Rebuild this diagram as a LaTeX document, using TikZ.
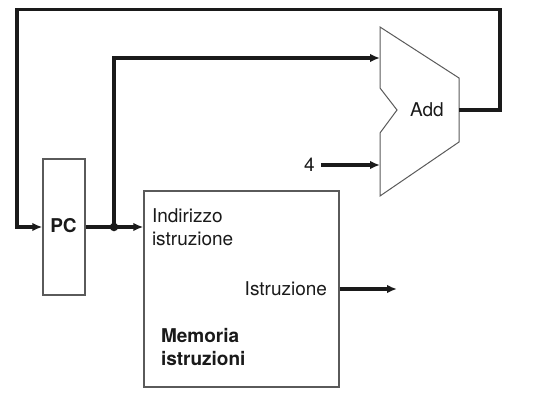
\documentclass[tikz,border=0pt]{standalone}
\usepackage{fontspec}
\setmainfont{TeX Gyre Heros}
\usetikzlibrary{positioning,calc,arrows.meta}
\definecolor{wire}{HTML}{1A1A1A}
\definecolor{edge}{HTML}{5A5A5A}
\tikzset{
  unit/.style     = {draw=edge, fill=white, line width=1.3pt, inner sep=0pt},
  alubody/.style  = {draw=edge, fill=white, line width=1pt, line join=miter},
  bus/.style      = {draw=wire, line width=3.2pt},
  busarrow/.style = {bus, -{Latex[length=10pt,width=8.5pt]}},
  joint/.style    = {circle, fill=wire, minimum size=8.5pt, inner sep=0pt},
  txt/.style      = {font=\fontsize{19}{22}\selectfont, text=wire, inner sep=0pt, outer sep=0pt},
  txtb/.style     = {font=\fontsize{19}{22}\selectfont\bfseries, text=wire, inner sep=0pt, outer sep=0pt},
}
\begin{document}
\begin{tikzpicture}[x=1pt,y=1pt]
\path[use as bounding box] (0,0) rectangle (540,408);

% ---- units --------------------------------------------------------------
\node[unit, minimum width=42pt, minimum height=136pt] (pc) at (64,181) {};
\node[txtb, anchor=base] (pclab) at (63.5,175.5) {PC};

\node[unit, minimum width=195pt, minimum height=196pt] (imem) at (241.5,119) {};
\node[txt, anchor=base west] (addrin)  at (152,186)   {Indirizzo};
\node[txt, anchor=base west] (addrinb) at (152,163)   {istruzione};
\node[txt, anchor=base east] (instr)   at (327,113)   {Istruzione};
\node[txtb, anchor=base west] (memlab)  at (161,65.5) {Memoria};
\node[txtb, anchor=base west] (memlabb) at (161,43)   {istruzioni};

% ---- adder --------------------------------------------------------------
\coordinate (alu-in1) at (380,350);
\coordinate (alu-in2) at (380,243);
\coordinate (alu-out) at (459,298);
\draw[alubody] (380,381) -- (459,330) -- (459,266) -- (380,212) -- (380,275)
  -- (397,298) -- (380,320) -- cycle;
\node[txt, anchor=base west] (addlab) at (410,291.5) {Add};
\node[txt, anchor=base] (four) at (309.5,237) {4};

% ---- wires --------------------------------------------------------------
\coordinate (split) at (114,181);
\coordinate (instout) at (397,119);
\draw[busarrow] (pc.east) -- (pc.east -| imem.west);
\draw[busarrow] (split) |- (alu-in1);
\draw[busarrow] ([xshift=6pt]four.east |- alu-in2) -- (alu-in2);
\draw[busarrow] (alu-out) -- (500,298) |- (17,398.5) |- (pc.west);
\draw[busarrow] (imem.east |- instout) -- (instout);
\node[joint] (dot) at (split) {};

\end{tikzpicture}
\end{document}
